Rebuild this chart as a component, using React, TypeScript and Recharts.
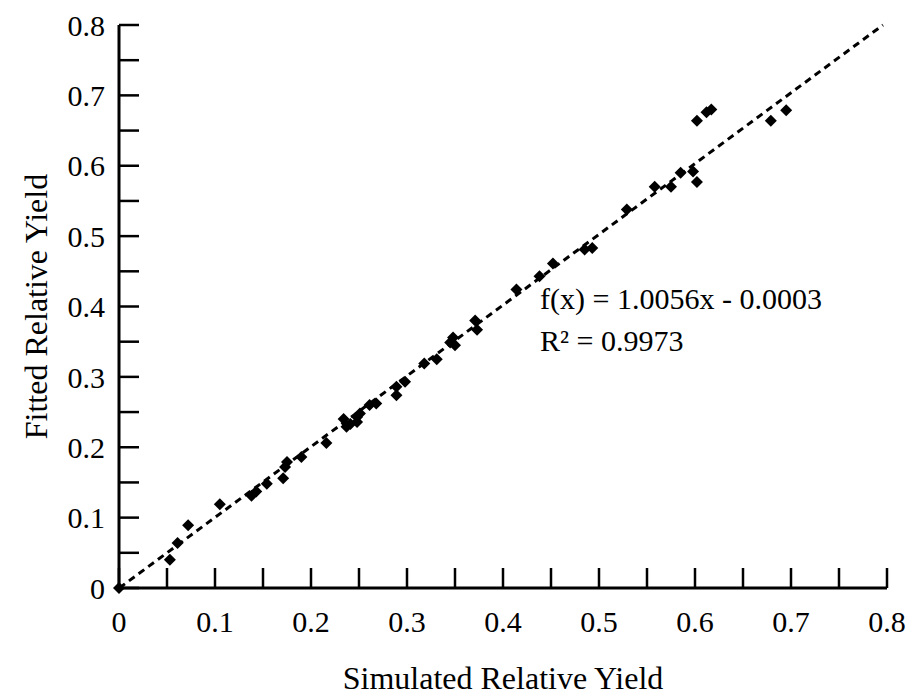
import React from "react";
import { ScatterChart, Scatter, XAxis, YAxis, Label } from "recharts";

// values
const simulated = [
  0, 0.053, 0.061, 0.072, 0.105, 0.138, 0.143, 0.154, 0.171, 0.173, 0.175,
  0.19, 0.216, 0.234, 0.237, 0.241, 0.248, 0.248, 0.251, 0.261, 0.268, 0.289,
  0.289, 0.298, 0.318, 0.331, 0.345, 0.348, 0.35, 0.371, 0.373, 0.414, 0.438,
  0.452, 0.485, 0.493, 0.529, 0.558, 0.575, 0.585, 0.598, 0.602, 0.602, 0.612,
  0.617, 0.679, 0.695,
];
const fitted = [
  0, 0.04, 0.064, 0.089, 0.119, 0.131, 0.137, 0.148, 0.156, 0.172, 0.179,
  0.186, 0.206, 0.24, 0.229, 0.233, 0.243, 0.236, 0.248, 0.26, 0.262, 0.286,
  0.274, 0.293, 0.319, 0.325, 0.349, 0.356, 0.345, 0.38, 0.367, 0.424, 0.443,
  0.461, 0.481, 0.483, 0.538, 0.57, 0.57, 0.59, 0.592, 0.577, 0.664, 0.676,
  0.68, 0.664, 0.679,
];

// fitted line f(x) = 1.0056x - 0.0003, where it meets y = 0 and y = 0.8
const trendX = [0.0003, 0.7958];
const trendY = [0, 0.8];

const axisTicks = [
  0, 0.05, 0.1, 0.15, 0.2, 0.25, 0.3, 0.35, 0.4, 0.45, 0.5, 0.55, 0.6, 0.65,
  0.7, 0.75, 0.8,
];
const labelTicks = ["0", "0.1", "0.2", "0.3", "0.4", "0.5", "0.6", "0.7", "0.8"];

const points = simulated.map((x, i) => ({ x, y: fitted[i] }));
const trend = trendX.map((x, i) => ({ x, y: trendY[i] }));

const FONT = "'Liberation Serif', 'Times New Roman', serif";

const fmt = (v: number) => {
  const s = String(Number(v.toFixed(2)));
  return labelTicks.includes(s) ? s : "";
};

const Diamond = (props: any) => {
  const { cx, cy } = props;
  const r = 6;
  return (
    <polygon
      points={`${cx},${cy - r} ${cx + r},${cy} ${cx},${cy + r} ${cx - r},${cy}`}
      fill="#000"
    />
  );
};

const tickStyle = { fill: "#000", fontSize: 30, fontFamily: FONT };

export default function App() {
  return (
    <div style={{ position: "absolute", left: 0, top: 0, width: 918, height: 698, background: "#fff" }}>
      <ScatterChart
        width={918}
        height={698}
        margin={{ top: 25, right: 31, left: 0, bottom: 0 }}
      >
        <XAxis
          type="number"
          dataKey="x"
          domain={[0, 0.8]}
          ticks={axisTicks}
          interval={0}
          tickFormatter={fmt}
          height={110}
          tickSize={-20}
          tickMargin={43}
          axisLine={{ stroke: "#000", strokeWidth: 3 }}
          tickLine={{ stroke: "#000", strokeWidth: 2.5 }}
          tick={tickStyle}
        >
          <Label
            value="Simulated Relative Yield"
            position="insideBottom"
            offset={9}
            style={{ fill: "#000", fontSize: 32, fontFamily: FONT }}
          />
        </XAxis>
        <YAxis
          type="number"
          dataKey="y"
          domain={[0, 0.8]}
          ticks={axisTicks}
          interval={0}
          tickFormatter={fmt}
          width={119}
          tickSize={-20}
          tickMargin={34}
          axisLine={{ stroke: "#000", strokeWidth: 3 }}
          tickLine={{ stroke: "#000", strokeWidth: 2.5 }}
          tick={tickStyle}
        >
          <Label
            value="Fitted Relative Yield"
            angle={-90}
            position="insideLeft"
            offset={36}
            style={{ fill: "#000", fontSize: 32, fontFamily: FONT, textAnchor: "middle" }}
          />
        </YAxis>
        <Scatter
          data={trend}
          line={{ stroke: "#000", strokeWidth: 3, strokeDasharray: "7 5" }}
          shape={() => <g />}
          isAnimationActive={false}
        />
        <Scatter data={points} shape={Diamond} isAnimationActive={false} />
      </ScatterChart>
      <div
        style={{
          position: "absolute",
          left: 540,
          top: 278,
          fontFamily: FONT,
          fontSize: 30,
          lineHeight: "42px",
          color: "#000",
          whiteSpace: "nowrap",
        }}
      >
        <div>f(x) = 1.0056x - 0.0003</div>
        <div>R² = 0.9973</div>
      </div>
    </div>
  );
}
